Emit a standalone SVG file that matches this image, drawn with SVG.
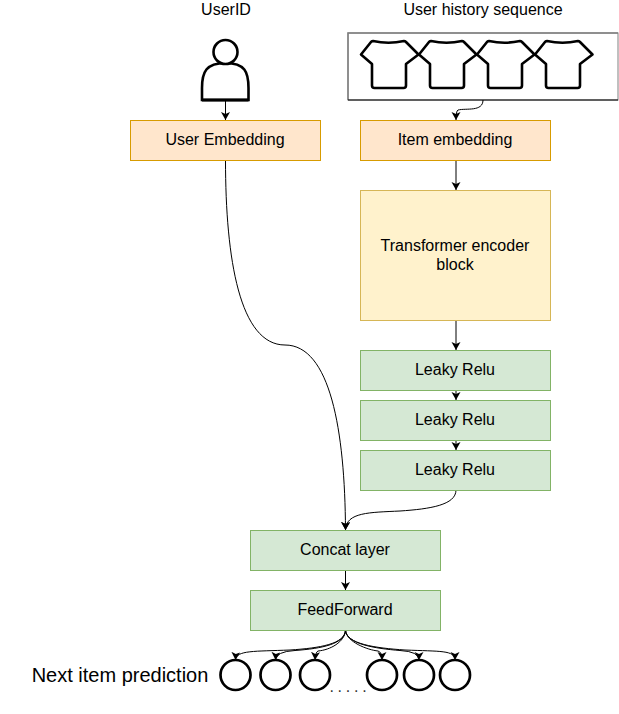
<svg xmlns="http://www.w3.org/2000/svg" width="619" height="714" viewBox="0 0 619 714">
<style>
text{font-family:"Liberation Sans",Arial,sans-serif;font-size:16px;fill:#000;text-anchor:middle}
.o{fill:#ffe6cc;stroke:#d79b00}
.y{fill:#fff2cc;stroke:#d6b656}
.g{fill:#d5e8d4;stroke:#82b366}
.c{fill:none;stroke:#000;stroke-width:1;marker-end:url(#a)}
.s{fill:#fff;stroke:#000;stroke-width:2.600;stroke-linejoin:round}
.n{fill:#fff;stroke:#000;stroke-width:2.700}
</style>
<defs>
<marker id="a" markerUnits="userSpaceOnUse" markerWidth="10" markerHeight="10" refX="8" refY="4.500" orient="auto"><path d="M0 0L8 4.500L0 9L2 4.500Z" fill="#000"/></marker>
<path id="shirt" d="M373 41Q388.500 44.500 404 41Q405 41 406 42L418.500 54.500L406 64V85.500Q406 88 403.500 88H374.500Q372 88 372 85.500V64L361 54.500L371 42Q372 41 373 41Z"/>
</defs>
<g id="labels">
<text x="226" y="15">UserID</text>
<text x="483" y="15">User history sequence</text>
<text x="120" y="682" style="font-size:20px">Next item prediction</text>
<text x="350" y="692" style="letter-spacing:3.800px;fill:#333">.....</text>
</g>
<g id="user-icon">
<path d="M202 100V88C202 72 206 63 225.500 63C245 63 248.500 72 248.500 88V100Z" fill="#fff" stroke="#000" stroke-width="2.600"/>
<path d="M202 100H248.500" stroke="#000" stroke-width="3"/>
<circle cx="225.500" cy="52" r="12" fill="#fff" stroke="#000" stroke-width="2.600"/>
</g>
<g id="history">
<rect x="348" y="33" width="270" height="67" fill="#fff" stroke="#808080" stroke-width="1"/>
<path d="M348 100V33H618" fill="none" stroke="#808080" stroke-width="1.500"/>
<path d="M348 100H618" stroke="#000"/>
<use href="#shirt" class="s"/>
<use href="#shirt" class="s" x="58"/>
<use href="#shirt" class="s" x="116"/>
<use href="#shirt" class="s" x="174"/>
</g>
<g id="connectors">
<path class="c" d="M225.500 100V120"/>
<path class="c" d="M483 100C483 112 466 108 458 110Q456 111 456 120"/>
<path class="c" d="M456 160V190"/>
<path class="c" d="M456 320V350"/>
<path class="c" d="M456 390V400"/>
<path class="c" d="M456 440V450"/>
<path class="c" d="M225.500 160C225.500 260 240 345 285 345C330 345 345 430 345.500 530"/>
<path class="c" d="M456 490C456 505 430 509 400 511C370 512.500 346 512 345.500 530"/>
<path class="c" d="M345.500 570V590"/>
<path class="c" d="M345.500 630C345 644 320 648 290 650C255 651.500 236 650 235.500 660"/>
<path class="c" d="M345.500 630C345 644 322 648.500 295 650.500Q276 651.500 275.500 660"/>
<path class="c" d="M345.500 630C345 642 330 650 318 651Q315.500 652 315 660"/>
<path class="c" d="M345.500 630C346 642 368 650 378 651Q382 652 382 660"/>
<path class="c" d="M345.500 630C346 644 375 648.500 400 650.500Q419 651.500 419 660"/>
<path class="c" d="M345.500 630C346 644 375 648 405 650C440 651.500 455 650 455 660"/>
</g>
<g id="user-embedding"><rect class="o" x="130.500" y="120.500" width="190" height="40"/><text x="225" y="145">User Embedding</text></g>
<g id="item-embedding"><rect class="o" x="360.500" y="120.500" width="190" height="40"/><text x="455" y="145">Item embedding</text></g>
<g id="transformer"><rect class="y" x="360.500" y="190.500" width="190" height="130"/><text x="455" y="251">Transformer encoder</text><text x="455" y="270">block</text></g>
<g id="relu1"><rect class="g" x="360.500" y="350.500" width="190" height="40"/><text x="455" y="375">Leaky Relu</text></g>
<g id="relu2"><rect class="g" x="360.500" y="400.500" width="190" height="40"/><text x="455" y="425">Leaky Relu</text></g>
<g id="relu3"><rect class="g" x="360.500" y="450.500" width="190" height="40"/><text x="455" y="475">Leaky Relu</text></g>
<g id="concat"><rect class="g" x="250.500" y="530.500" width="190" height="40"/><text x="345" y="555">Concat layer</text></g>
<g id="feedforward"><rect class="g" x="250.500" y="590.500" width="190" height="40"/><text x="345" y="615">FeedForward</text></g>
<g id="out1"><circle class="n" cx="235.500" cy="675" r="15"/></g>
<g id="out2"><circle class="n" cx="275.500" cy="675" r="15"/></g>
<g id="out3"><circle class="n" cx="315" cy="675" r="15"/></g>
<g id="out4"><circle class="n" cx="382" cy="675" r="15"/></g>
<g id="out5"><circle class="n" cx="419" cy="675" r="15"/></g>
<g id="out6"><circle class="n" cx="455" cy="675" r="15"/></g>
</svg>
